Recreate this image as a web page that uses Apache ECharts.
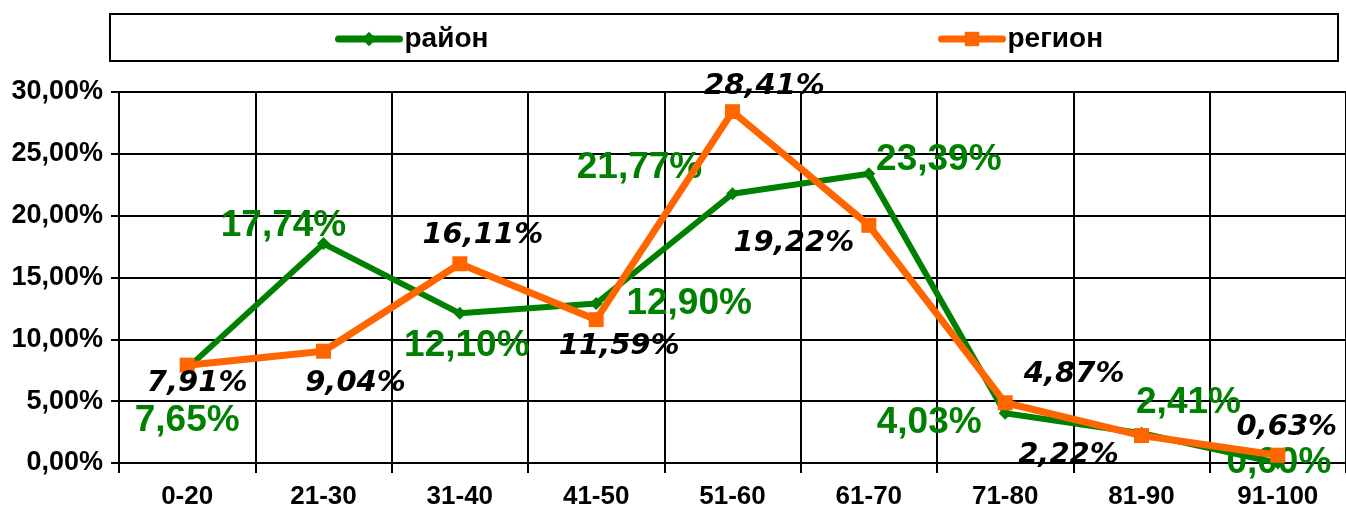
<!DOCTYPE html>
<html>
<head>
<meta charset="utf-8">
<script src="https://cdn.jsdelivr.net/npm/echarts@6/dist/echarts.min.js"></script>
<style>
html, body { margin: 0; padding: 0; background: #fff; }
#chart { width: 1346px; height: 514px; }
</style>
</head>
<body>
<div id="chart"></div>
<script type="text/javascript">

var categories = ['0-20', '21-30', '31-40', '41-50', '51-60', '61-70', '71-80', '81-90', '91-100'];
var rayonData = [7.65, 17.74, 12.10, 12.90, 21.77, 23.39, 4.03, 2.41, 0.00];
var regionData = [7.91, 9.04, 16.11, 11.59, 28.41, 19.22, 4.87, 2.22, 0.63];

// label offsets from the point (px)
var rayonOffsets = [[0, 52], [-40, -18], [7, 32], [93, 0], [-93, -26], [70, -14], [-76, 10], [47, -30], [1, 0]];
var regionOffsets = [[10, 18], [32, 32], [23, -28], [23, 27], [32, -25], [-75, 18], [69, -28], [-73, 20], [9, -28]];

function pct(v) {
	return v.toFixed(2).replace('.', ',') + '%';
}

function buildData(values, offsets) {
	var res = [];
	for (var i = 0; i < values.length; i++) {
		res.push({
			value: values[i],
			label: { offset: offsets[i] }
		});
	}
	return res;
}

var legendText = { fontFamily: 'Liberation Sans', fontWeight: 'bold', fontSize: 28, color: '#000', lineHeight: 30 };

var chart = echarts.init(document.getElementById('chart'));

var option = {
	animation: false,
	backgroundColor: '#fff',
	grid: {
		left: 119,
		right: 0,
		top: 92,
		bottom: 51,
		containLabel: false
	},
	graphic: [{
		type: 'rect',
		shape: { x: 110, y: 14, width: 1228, height: 47 },
		style: { fill: '#fff', stroke: '#000', lineWidth: 2 },
		z: -1
	}],
	legend: [{
		data: ['район'],
		left: 335,
		top: 24,
		padding: 0,
		itemWidth: 61,
		itemHeight: 18,
		itemGap: 5,
		lineStyle: { width: 7, cap: 'round' },
		textStyle: legendText
	}, {
		data: ['регион'],
		left: 938,
		top: 24,
		padding: 0,
		itemWidth: 61,
		itemHeight: 18,
		lineStyle: { width: 7, cap: 'round' },
		textStyle: legendText
	}],
	xAxis: {
		type: 'category',
		data: categories,
		boundaryGap: true,
		axisLine: { lineStyle: { color: '#000', width: 2 } },
		axisTick: { show: true, length: 10, lineStyle: { color: '#000', width: 2 } },
		axisLabel: {
			margin: 21,
			fontFamily: 'Liberation Sans',
			fontWeight: 'bold',
			fontSize: 26,
			color: '#000'
		},
		splitLine: { show: true, lineStyle: { color: '#000', width: 2 } }
	},
	yAxis: {
		type: 'value',
		min: 0,
		max: 30,
		interval: 5,
		axisLine: { show: true, lineStyle: { color: '#000', width: 2 } },
		axisTick: { show: true, length: 8, lineStyle: { color: '#000', width: 2 } },
		axisLabel: {
			margin: 16,
			fontFamily: 'Liberation Sans',
			fontWeight: 'bold',
			fontSize: 27,
			color: '#000',
			formatter: function (v) { return pct(v); }
		},
		splitLine: { show: true, lineStyle: { color: '#000', width: 2 } }
	},
	series: [{
		name: 'район',
		type: 'line',
		data: buildData(rayonData, rayonOffsets),
		symbol: 'diamond',
		symbolSize: 13,
		itemStyle: { color: '#008000' },
		lineStyle: { color: '#008000', width: 6 },
		label: {
			show: true,
			position: 'inside',
			align: 'center',
			verticalAlign: 'middle',
			fontFamily: 'Liberation Sans',
			fontWeight: 'bold',
			fontSize: 37,
			color: '#008000',
			formatter: function (p) { return pct(p.value); }
		},
		z: 2
	}, {
		name: 'регион',
		type: 'line',
		data: buildData(regionData, regionOffsets),
		symbol: 'rect',
		symbolSize: 15,
		itemStyle: { color: '#FF6600' },
		lineStyle: { color: '#FF6600', width: 7 },
		label: {
			show: true,
			position: 'inside',
			align: 'center',
			verticalAlign: 'middle',
			fontFamily: 'DejaVu Sans',
			fontStyle: 'italic',
			fontWeight: 'bold',
			fontSize: 29,
			color: '#000',
			formatter: function (p) { return pct(p.value); }
		},
		z: 3
	}]
};

chart.setOption(option);
</script>
</body>
</html>
